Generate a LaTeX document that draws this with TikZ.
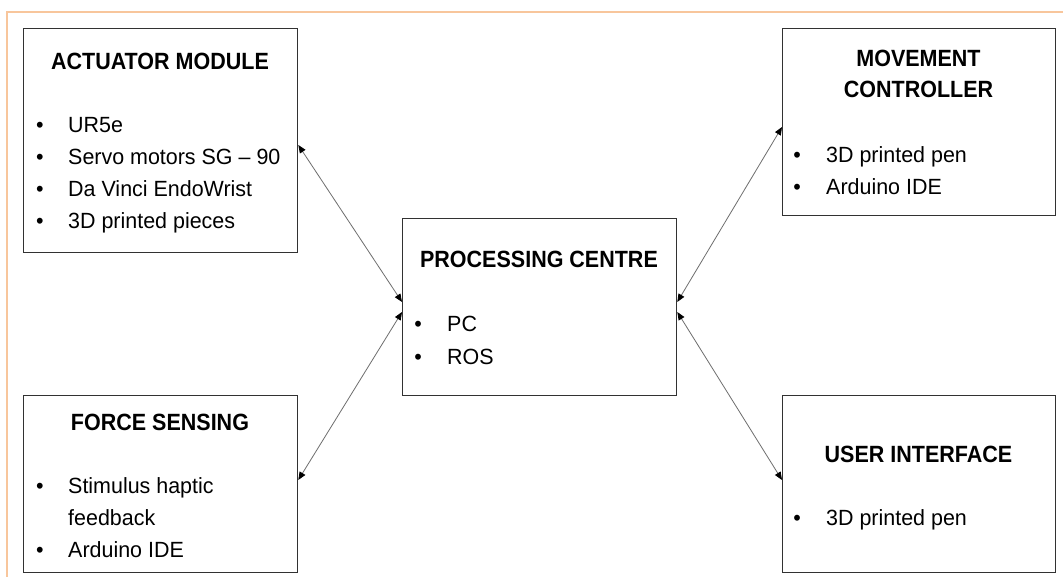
\documentclass[tikz,border=0pt]{standalone}
\usepackage{fontspec}
\setmainfont{Liberation Sans}
\newfontfamily\titlefont[FakeStretch=0.915]{Liberation Sans}
\newfontfamily\bodyfont[FakeStretch=0.975]{Liberation Sans}
\usetikzlibrary{arrows.meta,calc}
\definecolor{frameorange}{RGB}{248,198,156}
\definecolor{boxline}{RGB}{50,50,50}
\definecolor{linkgray}{RGB}{110,110,110}
\begin{document}
\begin{tikzpicture}[x=1pt,y=-1pt,
  blockbox/.style={draw=boxline,line width=1.3pt,fill=white,inner sep=0pt,anchor=north west},
  titletext/.style={font=\titlefont\fontsize{23.5}{27}\selectfont\bfseries,anchor=base,inner sep=0pt},
  itemtext/.style={font=\bodyfont\fontsize{22}{26}\selectfont,anchor=base west,inner sep=0pt},
  bullettext/.style={font=\bodyfont\fontsize{22}{26}\selectfont,anchor=base,inner sep=0pt},
  link/.style={draw=linkgray,line width=0.8pt,{Triangle[length=8pt,width=6.5pt,color=black]}-{Triangle[length=8pt,width=6.5pt,color=black]}}]
\useasboundingbox (0,0) rectangle (1063,577);
\fill[white] (0,0) rectangle (1063,577);
% orange frame
\draw[frameorange,line width=1.2pt] (7,577) -- (7,12) -- (1063,12);
% boxes
\node[blockbox,minimum width=274pt,minimum height=224pt] (act) at (23,28) {};
\node[blockbox,minimum width=273pt,minimum height=187pt] (mc) at (782,28) {};
\node[blockbox,minimum width=274pt,minimum height=177pt] (fs) at (23,395) {};
\node[blockbox,minimum width=273pt,minimum height=177pt] (ui) at (782,395) {};
\node[blockbox,minimum width=274pt,minimum height=177pt] (pc) at (402,218) {};
% actuator text
\node[titletext] (actT) at (160,70) {ACTUATOR MODULE};
\node[bullettext] (actB1) at (40,133) {•};
\node[itemtext] (actI1) at (68,133) {UR5e};
\node[bullettext] (actB2) at (40,165) {•};
\node[itemtext] (actI2) at (68,165) {Servo motors SG – 90};
\node[bullettext] (actB3) at (40,197) {•};
\node[itemtext] (actI3) at (68,197) {Da Vinci EndoWrist};
\node[bullettext] (actB4) at (40,229) {•};
\node[itemtext] (actI4) at (68,229) {3D printed pieces};
% movement controller
\node[titletext] (mcT1) at (918.5,67) {MOVEMENT};
\node[titletext] (mcT2) at (918.5,98) {CONTROLLER};
\node[bullettext] (mcB1) at (797,163) {•};
\node[itemtext] (mcI1) at (826,163) {3D printed pen};
\node[bullettext] (mcB2) at (797,195) {•};
\node[itemtext] (mcI2) at (826,195) {Arduino IDE};
% force sensing
\node[titletext] (fsT) at (160,430) {FORCE SENSING};
\node[bullettext] (fsB1) at (40,493) {•};
\node[itemtext] (fsI1) at (68,493) {Stimulus haptic};
\node[itemtext] (fsI1b) at (68,525) {feedback};
\node[bullettext] (fsB2) at (40,557) {•};
\node[itemtext] (fsI2) at (68,557) {Arduino IDE};
% user interface
\node[titletext] (uiT) at (918.5,462) {USER INTERFACE};
\node[bullettext] (uiB1) at (797,525) {•};
\node[itemtext] (uiI1) at (826,525) {3D printed pen};
% processing centre
\node[titletext] (pcT) at (539,268) {PROCESSING CENTRE};
\node[bullettext] (pcB1) at (418,332) {•};
\node[itemtext] (pcI1) at (447,332) {PC};
\node[bullettext] (pcB2) at (418,364) {•};
\node[itemtext] (pcI2) at (447,364) {ROS};
% connector end points
\coordinate (actE) at (act.north east |- 0,145);
\coordinate (fsE) at (fs.north east |- 0,480);
\coordinate (mcE) at (mc.north west |- 0,127);
\coordinate (uiE) at (ui.north west |- 0,480);
\coordinate (pcL1) at (pc.north west |- 0,302);
\coordinate (pcL2) at (pc.north west |- 0,312);
\coordinate (pcR1) at (pc.north east |- 0,302);
\coordinate (pcR2) at (pc.north east |- 0,312);
\draw[link] (actE) -- (pcL1);
\draw[link] (fsE) -- (pcL2);
\draw[link] (mcE) -- (pcR1);
\draw[link] (uiE) -- (pcR2);
\end{tikzpicture}
\end{document}
